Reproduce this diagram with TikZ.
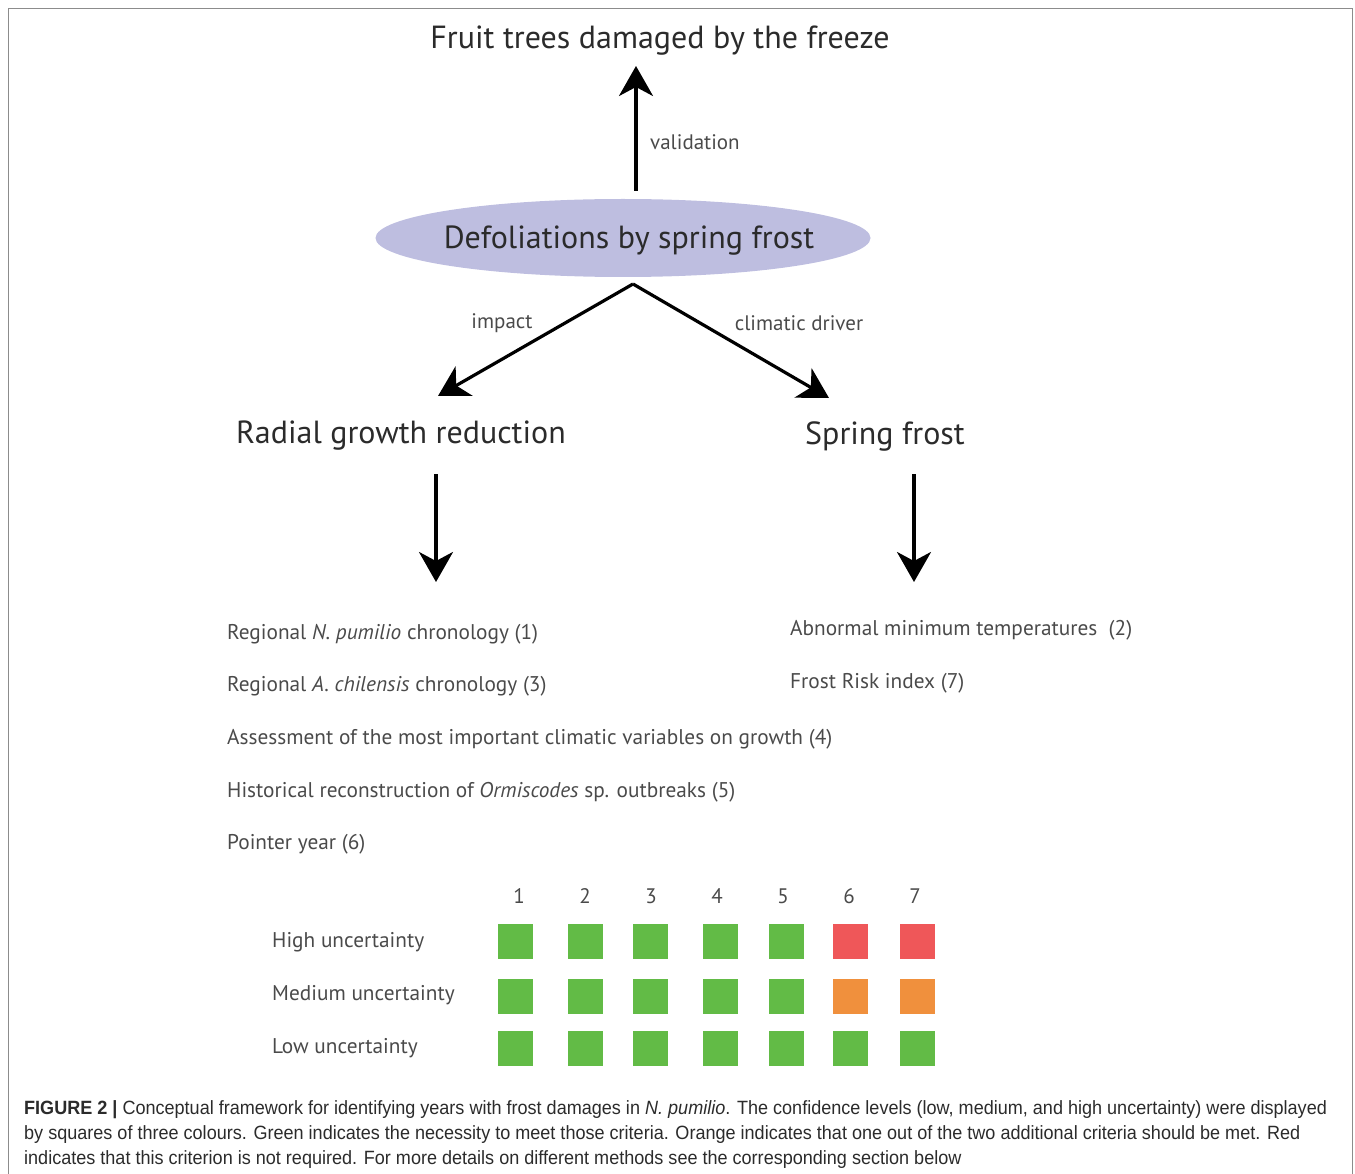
\documentclass[tikz,border=0pt]{standalone}
\usepackage{fontspec}
\setmainfont{PT Sans}
\newfontfamily\capfont[FakeStretch=0.94]{Liberation Sans}
\usetikzlibrary{arrows.meta,shapes.geometric}
\definecolor{txt}{HTML}{2B2B2B}
\definecolor{lbl}{HTML}{4A4A4A}
\definecolor{ellfill}{HTML}{BEBEE0}
\definecolor{sqgreen}{HTML}{62BB46}
\definecolor{sqred}{HTML}{EF5759}
\definecolor{sqorange}{HTML}{F0903D}
\definecolor{framec}{HTML}{8C8C8C}
\tikzset{
  big/.style={inner sep=0pt, text=txt, font=\fontsize{32}{37}\selectfont},
  small/.style={inner sep=0pt, text=lbl, font=\fontsize{21}{25}\selectfont},
  item/.style={inner sep=0pt, anchor=west, text=lbl, font=\fontsize{21.3}{25}\selectfont},
  bigarrow/.style={line width=3.2pt, -{Stealth[length=30pt,width=34pt,inset=9pt]}},
  sq/.style={minimum size=35pt, inner sep=0pt, draw=none},
  capline/.style={inner sep=0pt, anchor=west, text=txt, font=\capfont\fontsize{19.2}{22}\selectfont}
}
\begin{document}
\begin{tikzpicture}[x=1pt,y=-1pt]
\useasboundingbox (0,0) rectangle (1355,1174);
% frame
\draw[framec, line width=1.6pt] (8.5,1180) -- (8.5,8.5) -- (1352.5,8.5) -- (1352.5,1180);

% top part
\node[big] (fruit) at (660,41) {Fruit trees damaged by the freeze};
\node[ellipse, fill=ellfill, minimum width=495pt, minimum height=78pt, inner sep=0pt] (defol) at (623,238) {};
\node[big] (defoltxt) at (629,241) {Defoliations by spring frost};
\coordinate (upstart) at (636,191);
\coordinate (uptip) at (636,66);
\draw[bigarrow] (upstart) -- (uptip);
\node[small, anchor=west] (valid) at (650,142) {validation};

\coordinate (apex) at (633,284);
\node[big] (radial) at (401,436) {Radial growth reduction};
\node[big] (spring) at (885,436) {Spring frost};
\coordinate (ltip) at (438,396);
\coordinate (rtip) at (829,398);
\draw[bigarrow] (apex) -- (ltip);
\draw[bigarrow] (apex) -- (rtip);
\node[small] (impact) at (502,323) {impact};
\node[small] (climatic) at (799,323) {climatic driver};

\coordinate (ldstart) at (436,474);
\coordinate (ldtip) at (436,582);
\coordinate (rdstart) at (914,474);
\coordinate (rdtip) at (914,582);
\draw[bigarrow] (ldstart) -- (ldtip);
\draw[bigarrow] (rdstart) -- (rdtip);

% lists
\node[item] (i1) at (227,634) {Regional \textit{N. pumilio} chronology (1)};
\node[item] (i3) at (227,686) {Regional \textit{A. chilensis} chronology (3)};
\node[item] (i4) at (227,739) {Assessment of the most important climatic variables on growth (4)};
\node[item] (i5) at (227,792) {Historical reconstruction of \textit{Ormiscodes} sp. outbreaks (5)};
\node[item] (i6) at (227,844) {Pointer year (6)};
\node[item] (i2) at (790,630) {Abnormal minimum temperatures\ \ (2)};
\node[item] (i7) at (790,683) {Frost Risk index (7)};

% uncertainty grid
\node[item] (hu) at (272,942) {High uncertainty};
\node[item] (mu) at (272,995) {Medium uncertainty};
\node[item] (lu) at (272,1048) {Low uncertainty};
\foreach \n/\x in {1/519,2/585,3/651,4/717,5/783,6/849,7/915}{
  \node[small] (num\n) at (\x,896) {\n};
}
\foreach \n/\x in {1/515,2/585,3/650.5,4/720,5/786,6/850,7/917.5}{
  \node[sq, fill=sqgreen] (l\n) at (\x,1048) {};
}
\foreach \n/\x in {1/515,2/585,3/650.5,4/720,5/786}{
  \node[sq, fill=sqgreen] (h\n) at (\x,941) {};
  \node[sq, fill=sqgreen] (m\n) at (\x,996) {};
}
\node[sq, fill=sqred] (h6) at (850,941) {};
\node[sq, fill=sqred] (h7) at (917.5,941) {};
\node[sq, fill=sqorange] (m6) at (850,996) {};
\node[sq, fill=sqorange] (m7) at (917.5,996) {};

% caption
\node[capline] (cap1) at (24,1110) {\textbf{FIGURE 2 |} Conceptual framework for identifying years with frost damages in \textit{N. pumilio}. The confidence levels (low, medium, and high uncertainty) were displayed};
\node[capline] (cap2) at (24,1135) {by squares of three colours. Green indicates the necessity to meet those criteria. Orange indicates that one out of the two additional criteria should be met. Red};
\node[capline] (cap3) at (24,1160) {indicates that this criterion is not required. For more details on different methods see the corresponding section below};
\end{tikzpicture}
\end{document}
